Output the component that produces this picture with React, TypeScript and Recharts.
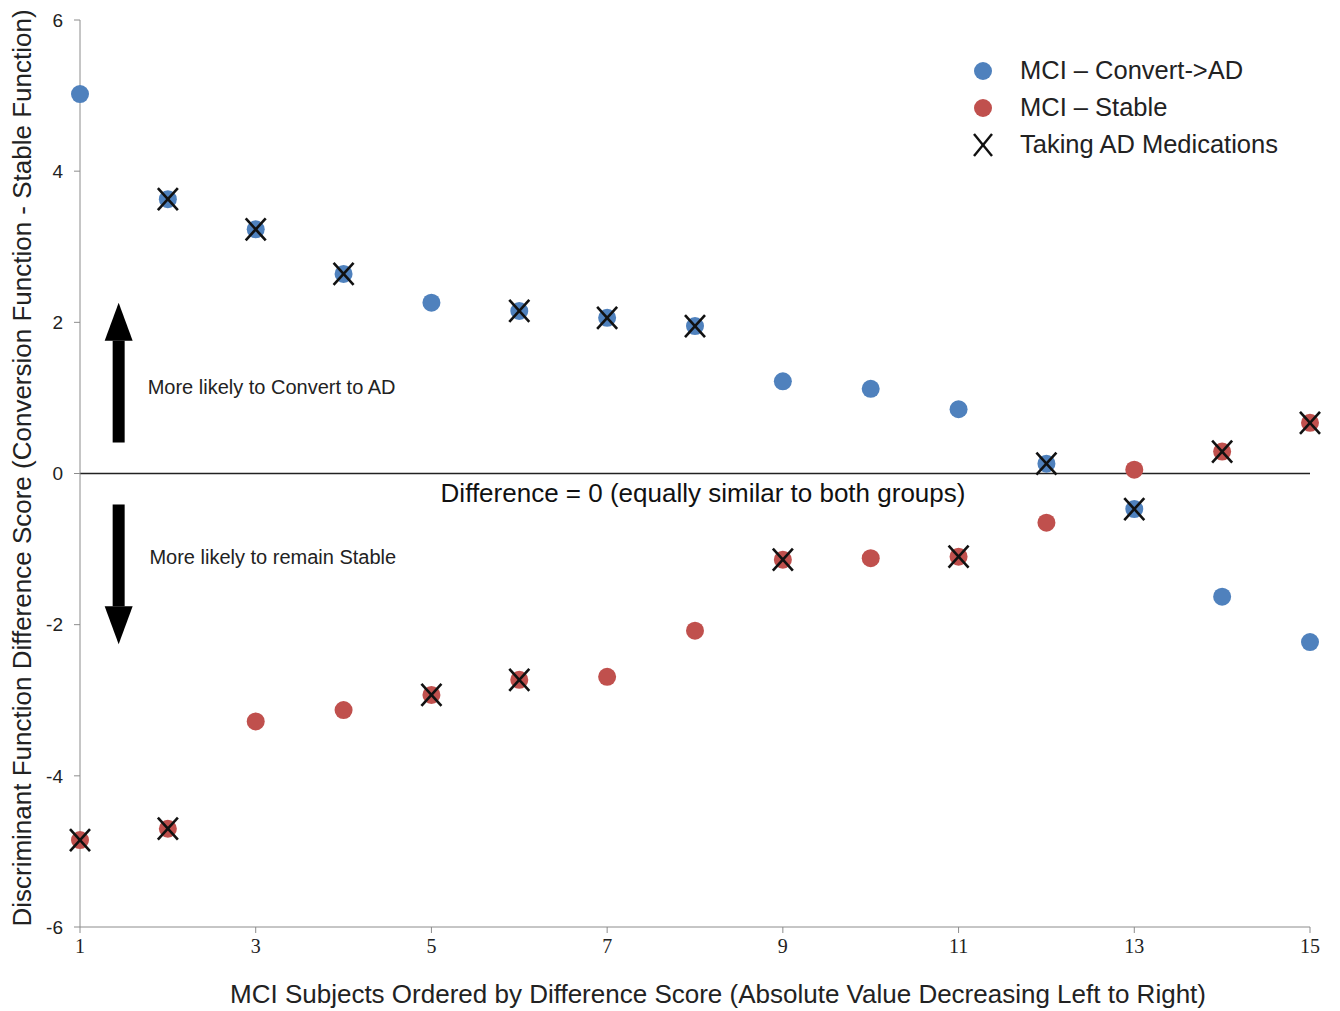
import React from 'react';
import {
  ScatterChart,
  Scatter,
  XAxis,
  YAxis,
  ReferenceLine,
  ReferenceDot,
  Label,
} from 'recharts';

const subjects = [1, 2, 3, 4, 5, 6, 7, 8, 9, 10, 11, 12, 13, 14, 15];
const convertScores = [5.02, 3.63, 3.23, 2.64, 2.26, 2.15, 2.06, 1.95, 1.22, 1.12, 0.85, 0.13, -0.47, -1.63, -2.23];
const stableScores = [-4.85, -4.7, -3.28, -3.13, -2.93, -2.73, -2.69, -2.08, -1.14, -1.12, -1.1, -0.65, 0.05, 0.29, 0.67];
const convertOnMeds = [2, 3, 4, 6, 7, 8, 12, 13];
const stableOnMeds = [1, 2, 5, 6, 9, 11, 14, 15];
const xTicks = [1, 3, 5, 7, 9, 11, 13, 15];
const yTicks = [-6, -4, -2, 0, 2, 4, 6];
const legendLabels = ['MCI \u2013 Convert->AD', 'MCI \u2013 Stable', 'Taking AD Medications'];

const BLUE = '#4f81bd';
const RED = '#c0504d';
const AXIS = '#8c8c8c';
const FONT = '"Liberation Sans", Arial, sans-serif';

const convertData = subjects.map((x, i) => ({ x, y: convertScores[i] }));
const stableData = subjects.map((x, i) => ({ x, y: stableScores[i] }));
const medsData = [
  ...convertOnMeds.map((x) => ({ x, y: convertScores[x - 1] })),
  ...stableOnMeds.map((x) => ({ x, y: stableScores[x - 1] })),
];

const Dot = (color: string) => (props: any) => (
  <circle cx={props.cx} cy={props.cy} r={9} fill={color} />
);

const Cross = (props: any) => {
  const { cx, cy } = props;
  const s = 10;
  return (
    <g stroke="#111" strokeWidth={2.6}>
      <line x1={cx - s} y1={cy - s - 1} x2={cx + s} y2={cy + s + 1} />
      <line x1={cx + s} y1={cy - s - 1} x2={cx - s} y2={cy + s + 1} />
    </g>
  );
};

// block arrow drawn from segment start (tail) to end (tip)
const Arrow = (props: any) => {
  const { x1, y1, x2, y2 } = props;
  const dir = y2 < y1 ? -1 : 1;
  const headLen = 38;
  const baseY = y2 - dir * headLen;
  const top = Math.min(y1, baseY);
  return (
    <g fill="#000">
      <rect x={x1 - 6} y={top} width={12} height={Math.abs(baseY - y1)} />
      <polygon points={`${x2 - 14},${baseY} ${x2 + 14},${baseY} ${x2},${y2}`} />
    </g>
  );
};

const LegendBox = () => (
  <div
    style={{
      position: 'absolute',
      left: 968,
      top: 52,
      fontFamily: FONT,
      fontSize: 25.5,
      color: '#222',
    }}
  >
    {legendLabels.map((label, i) => (
      <div key={label} style={{ display: 'flex', alignItems: 'center', height: 37 }}>
        <svg width={30} height={30} style={{ marginRight: 22 }}>
          {i < 2 ? (
            <circle cx={15} cy={15} r={9} fill={i === 0 ? BLUE : RED} />
          ) : (
            <g stroke="#111" strokeWidth={2.4}>
              <line x1={6} y1={4} x2={24} y2={26} />
              <line x1={24} y1={4} x2={6} y2={26} />
            </g>
          )}
        </svg>
        <span>{label}</span>
      </div>
    ))}
  </div>
);

export default function App() {
  return (
    <div style={{ position: 'absolute', left: 0, top: 0, width: 1340, height: 1011, background: '#fff' }}>
      <ScatterChart width={1340} height={1011} margin={{ top: 20, right: 30, left: 0, bottom: 54 }}>
        <XAxis
          type="number"
          dataKey="x"
          domain={[1, 15]}
          ticks={xTicks}
          interval={0}
          stroke={AXIS}
          tickSize={6}
          tickMargin={6}
          height={30}
          tick={{ fill: '#222', fontSize: 20, fontFamily: '"Liberation Serif", serif' }}
        >
          <Label
            content={() => (
              <text x={718} y={1003} textAnchor="middle" fontFamily={FONT} fontSize={26} fill="#222">
                MCI Subjects Ordered by Difference Score (Absolute Value Decreasing Left to Right)
              </text>
            )}
          />
        </XAxis>
        <YAxis
          type="number"
          dataKey="y"
          domain={[-6, 6]}
          ticks={yTicks}
          interval={0}
          width={80}
          stroke={AXIS}
          tickSize={6}
          tickMargin={11}
          tick={{ fill: '#222', fontSize: 19, fontFamily: FONT }}
        >
          <Label
            content={() => (
              <text
                x={31}
                y={468}
                transform="rotate(-90 31 468)"
                textAnchor="middle"
                fontFamily={FONT}
                fontSize={26}
                fill="#222"
              >
                Discriminant Function Difference Score (Conversion Function - Stable Function)
              </text>
            )}
          />
        </YAxis>
        <ReferenceLine
          y={0}
          stroke="#222"
          strokeWidth={1.5}
          label={(p: any) => (
            <text
              x={p.viewBox.x + p.viewBox.width / 2 + 8}
              y={p.viewBox.y + 28}
              textAnchor="middle"
              fontFamily={FONT}
              fontSize={26}
              fill="#111"
            >
              Difference = 0 (equally similar to both groups)
            </text>
          )}
        />
        <ReferenceLine segment={[{ x: 1.44, y: 0.41 }, { x: 1.44, y: 2.26 }]} shape={Arrow} />
        <ReferenceLine segment={[{ x: 1.44, y: -0.41 }, { x: 1.44, y: -2.26 }]} shape={Arrow} />
        <ReferenceDot
          x={1.77}
          y={1.15}
          r={0}
          fill="none"
          stroke="none"
          label={(p: any) => (
            <text x={p.viewBox.x} y={p.viewBox.y + 7} fontFamily={FONT} fontSize={20} fill="#222">
              More likely to Convert to AD
            </text>
          )}
        />
        <ReferenceDot
          x={1.79}
          y={-1.11}
          r={0}
          fill="none"
          stroke="none"
          label={(p: any) => (
            <text x={p.viewBox.x} y={p.viewBox.y + 7} fontFamily={FONT} fontSize={20} fill="#222">
              More likely to remain Stable
            </text>
          )}
        />
        <Scatter name={legendLabels[0]} data={convertData} shape={Dot(BLUE)} isAnimationActive={false} />
        <Scatter name={legendLabels[1]} data={stableData} shape={Dot(RED)} isAnimationActive={false} />
        <Scatter name={legendLabels[2]} data={medsData} shape={Cross} isAnimationActive={false} />
      </ScatterChart>
      <LegendBox />
    </div>
  );
}
